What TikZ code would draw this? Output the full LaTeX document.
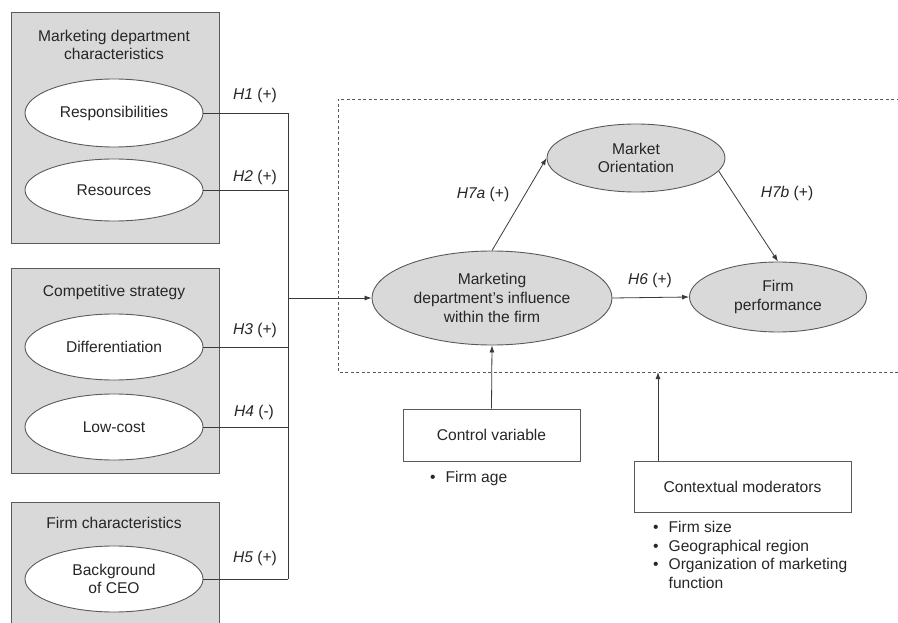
\documentclass[tikz,border=0pt]{standalone}
\usepackage{fontspec}
\setmainfont{Liberation Sans}
\usetikzlibrary{shapes.geometric,arrows.meta}
\definecolor{boxgray}{HTML}{D9D9D9}
\definecolor{linegray}{HTML}{3A3A3A}
\definecolor{edgegray}{HTML}{5A5A5A}
\begin{document}
\begin{tikzpicture}[x=1pt,y=-1pt,
  every node/.style={font=\fontsize{15.6}{18.6}\selectfont, text=black!85},
  grpbox/.style={fill=boxgray, draw=edgegray, line width=0.9pt},
  lell/.style={ellipse, draw=edgegray, fill=white, line width=0.9pt, inner sep=0pt, minimum width=178pt, align=center},
  rell/.style={ellipse, draw=edgegray, fill=boxgray, line width=0.9pt, inner sep=0pt, align=center},
  wbox/.style={rectangle, draw=edgegray, fill=white, line width=0.9pt, inner sep=0pt, align=center},
  conn/.style={draw=linegray, line width=0.8pt},
  arr/.style={conn, -{Latex[length=7pt,width=5pt]}},
  hlab/.style={inner sep=0pt, anchor=center},
  lbl/.style={inner sep=0pt, align=left, anchor=west}
]
\useasboundingbox (0,0) rectangle (898,623);
\begin{scope}
\clip (0,0) rectangle (898,623);
% group boxes
\draw[grpbox] (11,12) rectangle (219,243);
\draw[grpbox] (11,268) rectangle (219,473);
\draw[grpbox] (11,502) rectangle (219,640);
% dashed frame
\draw[draw=edgegray, line width=0.8pt, dash pattern=on 3pt off 2.5pt] (905,99) -- (338,99) -- (338,372) -- (905,372);
\end{scope}
% group titles
\node[align=center] (t1) at (114,45) {Marketing department\\characteristics};
\node (t2) at (114,292) {Competitive strategy};
\node (t3) at (114,523) {Firm characteristics};
% left ellipses
\node[lell, minimum height=68pt] (resp) at (114,113) {Responsibilities};
\node[lell, minimum height=62pt] (reso) at (114,190) {Resources};
\node[lell, minimum height=66pt] (diff) at (114,347) {Differentiation};
\node[lell, minimum height=66pt] (low) at (114,427) {Low-cost};
\node[lell, minimum height=66pt] (ceo) at (114,579) {Background\\of CEO};
% junction coordinates
\coordinate (j1) at (288,113);
\coordinate (j2) at (288,190);
\coordinate (j3) at (288,347);
\coordinate (j4) at (288,427);
\coordinate (j5) at (288,579);
\coordinate (jm) at (288,298);
\draw[conn] (resp.east) -- (j1);
\draw[conn] (reso.east) -- (j2);
\draw[conn] (diff.east) -- (j3);
\draw[conn] (low.east) -- (j4);
\draw[conn] (ceo.east) -- (j5);
\draw[conn] (j1) -- (j5);
% H labels
\node[hlab] (h1) at (255,95) {\textit{H1} (+)};
\node[hlab] (h2) at (255,177) {\textit{H2} (+)};
\node[hlab] (h3) at (255,330) {\textit{H3} (+)};
\node[hlab] (h4) at (254,412) {\textit{H4} (-)};
\node[hlab] (h5) at (255,558) {\textit{H5} (+)};
% right ellipses
\node[rell, minimum width=240pt, minimum height=94pt] (mdi) at (492,298) {Marketing\\department's influence\\within the firm};
\node[rell, minimum width=178pt, minimum height=68pt] (mo) at (636,158) {Market\\Orientation};
\node[rell, minimum width=177pt, minimum height=70pt] (fp) at (778,297) {Firm\\performance};
\draw[arr] (jm) -- (mdi.west);
\draw[arr] (mdi.north) -- (mo.west);
\draw[arr] (mo.-9) -- (fp.north);
\draw[arr] (mdi.east) -- (fp.west);
\node[hlab] (h7a) at (483,194) {\textit{H7a} (+)};
\node[hlab] (h7b) at (787,193) {\textit{H7b} (+)};
\node[hlab] (h6) at (650,280) {\textit{H6} (+)};
% control variable
\node[wbox, minimum width=177pt, minimum height=52pt] (ctrl) at (491.5,435) {Control variable};
\draw[arr] (ctrl.north) -- (mdi.south);
\node[lbl] (ctrlb) at (430,478) {\textbullet\hspace{10pt}Firm age};
% contextual moderators
\node[wbox, minimum width=217pt, minimum height=51pt] (ctx) at (742.5,486.5) {Contextual moderators};
\coordinate (dashb) at (658,372);
\draw[arr] (ctx.north -| dashb) -- (dashb);
\node[lbl, anchor=north west] (ctxb) at (653,521) {\textbullet\hspace{10pt}Firm size\\\textbullet\hspace{10pt}Geographical region\\\textbullet\hspace{10pt}Organization of marketing\\\hphantom{\textbullet}\hspace{10pt}function};
\end{tikzpicture}
\end{document}
